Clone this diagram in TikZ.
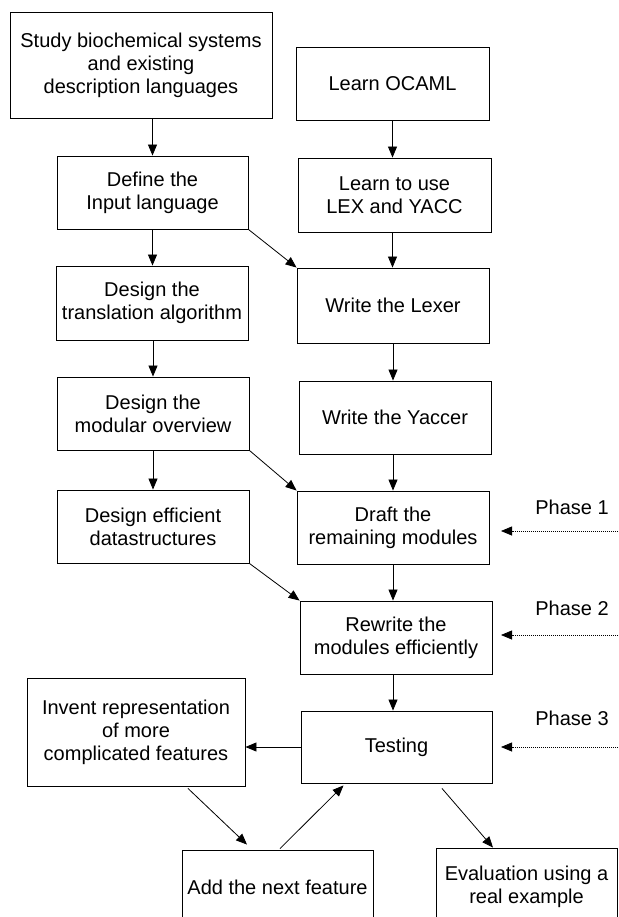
\documentclass[tikz,border=0pt]{standalone}
\usepackage{fontspec}
\setmainfont{Liberation Sans}
\usetikzlibrary{arrows.meta}
\begin{document}
\begin{tikzpicture}[x=1pt,y=-1pt,
  box/.style={draw=black, line width=0.9pt, inner sep=0pt, align=center,
    font=\fontsize{20}{23}\selectfont},
  lbl/.style={inner sep=0pt, font=\fontsize{20}{23}\selectfont},
  conn/.style={line width=0.8pt, -{Triangle[length=11pt,width=9pt]}},
  phasearrow/.style={line width=0.8pt, dash pattern=on 1pt off 1pt, -{Triangle[length=11pt,width=9pt]}}]
\path[use as bounding box] (0,0) rectangle (618,917);
\clip (0,0) rectangle (618,917);
% left column
\node[box, minimum width=262pt, minimum height=106pt] (study) at (141,65)
  {Study biochemical systems\\and existing\\description languages};
\node[box, minimum width=191pt, minimum height=73pt] (define) at (152.5,192.5)
  {Define the\\Input language};
\node[box, minimum width=192pt, minimum height=74pt] (trans) at (152,303)
  {Design the\\translation algorithm};
\node[box, minimum width=192pt, minimum height=73pt] (modular) at (153,413.5)
  {Design the\\modular overview};
\node[box, minimum width=192pt, minimum height=73pt] (effds) at (153,526.5)
  {Design efficient\\datastructures};
% right column
\node[box, minimum width=193pt, minimum height=73pt] (ocaml) at (392.5,83.5)
  {Learn OCAML};
\node[box, minimum width=193pt, minimum height=74pt] (lexyacc) at (394.5,195)
  {Learn to use\\LEX and YACC};
\node[box, minimum width=192pt, minimum height=75pt] (lexer) at (393,305.5)
  {Write the Lexer};
\node[box, minimum width=192pt, minimum height=73pt] (yaccer) at (395,417.5)
  {Write the Yaccer};
\node[box, minimum width=192pt, minimum height=73pt] (draft) at (393,527.5)
  {Draft the\\remaining modules};
\node[box, minimum width=192pt, minimum height=73pt] (rewrite) at (396,637.5)
  {Rewrite the\\modules efficiently};
\node[box, minimum width=191pt, minimum height=72pt] (testing) at (396.5,747)
  {Testing};
% bottom part
\node[box, minimum width=218pt, minimum height=108pt] (invent) at (136,732)
  {Invent representation\\of more\\complicated features};
\node[box, minimum width=191pt, minimum height=74pt] (add) at (277.5,887)
  {Add the next feature};
\node[box, minimum width=181pt, minimum height=77pt] (eval) at (526.5,886.5)
  {Evaluation using a\\real example};
% phase labels
\node[lbl] (ph1) at (572,507) {Phase 1};
\node[lbl] (ph2) at (572,608) {Phase 2};
\node[lbl] (ph3) at (572,718) {Phase 3};
\coordinate (p1s) at (620,531); \coordinate (p1e) at (501,531);
\coordinate (p2s) at (620,635); \coordinate (p2e) at (501,635);
\coordinate (p3s) at (620,747); \coordinate (p3e) at (501,747);
\draw[phasearrow] (p1s) -- (p1e);
\draw[phasearrow] (p2s) -- (p2e);
\draw[phasearrow] (p3s) -- (p3e);
% connectors
\draw[conn] (study.south -| define.north) -- (define.north);
\draw[conn] (define.south) -- (define.south |- trans.north);
\draw[conn] (trans.south -| modular.north) -- (modular.north);
\draw[conn] (modular.south) -- (modular.south |- effds.north);
\draw[conn] (ocaml.south) -- (ocaml.south |- lexyacc.north);
\draw[conn] (ocaml.south |- lexyacc.south) -- (ocaml.south |- lexer.north);
\draw[conn] (lexer.south) -- (lexer.south |- yaccer.north);
\draw[conn] (lexer.south |- yaccer.south) -- (lexer.south |- draft.north);
\draw[conn] (draft.south) -- (draft.south |- rewrite.north);
\draw[conn] (draft.south |- rewrite.south) -- (draft.south |- testing.north);
\draw[conn] (define.south east) -- (lexer.north west);
\draw[conn] (modular.south east) -- (draft.north west);
\draw[conn] (effds.south east) -- (rewrite.north west);
\draw[conn] (testing.west) -- (testing.west -| invent.east);
\draw[conn] ([xshift=52pt,yshift=-2pt]invent.south) -- ([xshift=-30.5pt,yshift=5pt]add.north);
\draw[conn] ([xshift=2.5pt,yshift=1pt]add.north) -- ([xshift=-53pt,yshift=-2pt]testing.south);
\draw[conn] ([xshift=45.5pt,yshift=-5pt]testing.south) -- ([xshift=-33.5pt]eval.north);
\end{tikzpicture}
\end{document}
